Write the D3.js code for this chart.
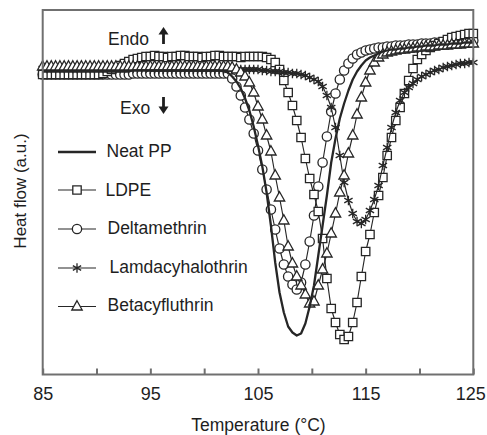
<!DOCTYPE html>
<html>
<head>
<meta charset="utf-8">
<script src="https://cdn.jsdelivr.net/npm/d3@7"></script>
<style>
  body { margin: 0; background: #fff; }
  svg text { font-family: "Liberation Sans", Arial, Helvetica, sans-serif; fill: #1e1e1e; }
</style>
</head>
<body>
<svg id="chart" width="487" height="435"></svg>
<script>
// DSC cooling scans, sampled every 0.4 °C from 85 to 125 °C
const temperature = d3.range(101).map(i => +(85 + i * 0.4).toFixed(1));

// Heat flow (a.u.), exotherm downward
const neatPP = [
  3.03,3.03,3.03,3.03,3.03,3.03,3.03,3.03,3.03,3.03,
  3.03,3.03,3.03,3.03,3.03,3.03,3.03,3.03,3.03,3.03,
  3.03,3.04,3.04,3.04,3.04,3.04,3.04,3.04,3.04,3.04,
  3.04,3.04,3.04,3.04,3.04,3.04,3.04,3.04,3.04,3.04,
  3.04,3.04,3.03,3.02,2.98,2.93,2.86,2.76,2.64,2.48,
  2.29,2.08,1.82,1.49,1.12,0.82,0.62,0.48,0.42,0.39,
  0.41,0.51,0.68,0.89,1.19,1.49,1.79,2.12,2.36,2.56,
  2.71,2.84,2.95,3.03,3.09,3.14,3.17,3.19,3.21,3.23,
  3.24,3.25,3.25,3.26,3.26,3.27,3.27,3.28,3.28,3.29,
  3.29,3.29,3.30,3.30,3.30,3.31,3.31,3.31,3.32,3.32,
  3.32
];
const ldpe = [
  3.00,3.00,3.00,3.00,3.00,3.00,3.00,3.00,3.00,3.00,
  3.00,3.00,3.00,3.00,3.01,3.03,3.05,3.07,3.09,3.11,
  3.13,3.15,3.16,3.17,3.18,3.18,3.19,3.18,3.18,3.17,
  3.18,3.18,3.19,3.19,3.18,3.18,3.18,3.17,3.18,3.18,
  3.19,3.19,3.18,3.18,3.18,3.18,3.17,3.18,3.18,3.18,
  3.18,3.18,3.17,3.15,3.12,3.05,2.94,2.82,2.69,2.54,
  2.37,2.16,1.96,1.80,1.63,1.36,0.96,0.66,0.52,0.40,
  0.35,0.38,0.52,0.72,0.98,1.23,1.40,1.62,1.79,1.97,
  2.19,2.37,2.54,2.67,2.81,2.94,3.06,3.15,3.20,3.24,
  3.27,3.29,3.31,3.33,3.35,3.37,3.38,3.39,3.40,3.41,
  3.41
];
const deltamethrin = [
  3.00,3.00,3.00,3.00,3.00,3.00,3.00,3.00,3.00,3.00,
  3.00,3.00,3.00,3.00,3.00,3.00,3.00,3.00,3.00,3.00,
  3.00,3.01,3.01,3.01,3.01,3.01,3.01,3.01,3.01,3.01,
  3.01,3.01,3.01,3.01,3.01,3.01,3.01,3.01,3.01,3.01,
  3.01,3.01,3.01,3.01,2.96,2.88,2.79,2.67,2.55,2.41,
  2.24,2.05,1.85,1.65,1.45,1.26,1.10,0.98,0.90,0.85,
  0.92,1.10,1.33,1.59,1.88,2.12,2.38,2.63,2.81,2.95,
  3.04,3.11,3.16,3.20,3.22,3.24,3.25,3.26,3.27,3.27,
  3.28,3.28,3.29,3.29,3.29,3.30,3.30,3.30,3.31,3.31,
  3.31,3.32,3.32,3.32,3.33,3.33,3.33,3.33,3.34,3.34,
  3.34
];
const lamdacyhalothrin = [
  3.06,3.06,3.06,3.06,3.06,3.06,3.06,3.06,3.06,3.06,
  3.06,3.06,3.06,3.06,3.06,3.06,3.06,3.06,3.06,3.06,
  3.06,3.06,3.06,3.06,3.06,3.05,3.05,3.05,3.05,3.05,
  3.05,3.05,3.05,3.05,3.05,3.05,3.05,3.05,3.05,3.05,
  3.05,3.05,3.05,3.05,3.05,3.05,3.05,3.05,3.05,3.05,
  3.05,3.04,3.04,3.03,3.03,3.03,3.02,3.02,3.01,3.01,
  3.00,2.99,2.97,2.95,2.93,2.88,2.79,2.67,2.47,2.19,
  1.92,1.74,1.61,1.53,1.51,1.55,1.64,1.75,1.89,2.09,
  2.27,2.47,2.62,2.74,2.82,2.87,2.91,2.95,2.98,3.00,
  3.02,3.04,3.05,3.07,3.08,3.09,3.10,3.11,3.11,3.12,
  3.12
];
const betacyfluthrin = [
  3.08,3.08,3.08,3.08,3.08,3.08,3.08,3.08,3.08,3.08,
  3.08,3.08,3.08,3.08,3.08,3.08,3.08,3.08,3.08,3.08,
  3.08,3.08,3.08,3.08,3.08,3.08,3.08,3.08,3.08,3.08,
  3.08,3.08,3.08,3.08,3.08,3.08,3.08,3.08,3.08,3.08,
  3.08,3.08,3.08,3.08,3.07,3.05,3.02,2.98,2.92,2.82,
  2.68,2.55,2.39,2.23,1.99,1.77,1.54,1.28,1.11,0.98,
  0.89,0.80,0.71,0.73,0.89,1.05,1.21,1.41,1.61,1.82,
  1.99,2.21,2.39,2.60,2.77,2.92,3.04,3.12,3.17,3.20,
  3.22,3.23,3.24,3.25,3.25,3.26,3.26,3.27,3.27,3.28,
  3.28,3.28,3.29,3.29,3.29,3.30,3.30,3.30,3.31,3.31,
  3.31
];

const seriesNames = ["Neat PP", "LDPE", "Deltamethrin", "Lamdacyhalothrin", "Betacyfluthrin"];
const seriesMarkers = ["none", "square", "circle", "star", "triangle"];
const xTickValues = [85, 90, 95, 100, 105, 110, 115, 120, 125];
const xTickLabels = [85, 95, 105, 115, 125];

const svg = d3.select("#chart");
const ink = "#262626";
const frameColor = "#707070";

const plot = { left: 42.7, right: 473.3, top: 10, bottom: 374.5 };
const x = d3.scaleLinear().domain([85, 125]).range([plot.left, plot.right]);
const y = d3.scaleLinear().domain([0, 3.645]).range([plot.bottom, plot.top]);

// marker shapes
function markerPath(kind) {
  switch (kind) {
    case "square": return "M-4.2,-4.2H4.2V4.2H-4.2Z";
    case "circle": return d3.symbol(d3.symbolCircle, 68)();
    case "triangle": return "M0,-5.8L5.2,3.5L-5.2,3.5Z";
    case "star": {
      const s = 4.8, c = s * 0.866, h = s * 0.5;
      return `M0,${-s}V${s}M${-c},${-h}L${c},${h}M${-c},${h}L${c},${-h}`;
    }
  }
  return null;
}

const series = [
  { name: seriesNames[0], marker: seriesMarkers[0], values: neatPP },
  { name: seriesNames[1], marker: seriesMarkers[1], values: ldpe },
  { name: seriesNames[2], marker: seriesMarkers[2], values: deltamethrin },
  { name: seriesNames[3], marker: seriesMarkers[3], values: lamdacyhalothrin },
  { name: seriesNames[4], marker: seriesMarkers[4], values: betacyfluthrin }
].map(s => ({ ...s, points: s.values.map((v, i) => ({ t: temperature[i], v })) }));

const line = d3.line().x(d => x(d.t)).y(d => y(d.v));

// drawing order: marker series first, neat PP trace on top
const order = [2, 1, 3, 4, 0];
const gData = svg.append("g");
order.forEach(idx => {
  const s = series[idx];
  const g = gData.append("g");
  g.append("path")
    .attr("d", line(s.points))
    .attr("fill", "none")
    .attr("stroke", ink)
    .attr("stroke-width", s.marker === "none" ? 2.3 : 1.15)
    .attr("stroke-linejoin", "round");
  if (s.marker !== "none") {
    g.selectAll("path.m")
      .data(s.points)
      .join("path")
      .attr("class", "m")
      .attr("d", markerPath(s.marker))
      .attr("transform", d => `translate(${x(d.t)},${y(d.v)})`)
      .attr("fill", s.marker === "star" ? "none" : "#fff")
      .attr("stroke", ink)
      .attr("stroke-width", 1.3);
  }
});

// frame
svg.append("rect")
  .attr("x", plot.left).attr("y", plot.top)
  .attr("width", plot.right - plot.left).attr("height", plot.bottom - plot.top)
  .attr("fill", "none").attr("stroke", frameColor).attr("stroke-width", 2);

// bottom axis with inward ticks
const xAxis = d3.axisBottom(x)
  .tickValues(xTickValues)
  .tickSize(-6)
  .tickPadding(12.5)
  .tickFormat(d => xTickLabels.includes(d) ? d3.format("d")(d) : "");
const gx = svg.append("g").attr("transform", `translate(0,${plot.bottom})`).call(xAxis);
gx.select(".domain").remove();
gx.selectAll(".tick line").attr("stroke", frameColor).attr("stroke-width", 2);
gx.selectAll(".tick text").attr("font-size", 18).style("fill", "#1e1e1e");
// keep the last label inside the page edge
gx.selectAll(".tick text").filter(d => d === 125).attr("dx", -3);

// axis titles
svg.append("text")
  .attr("x", 258.5).attr("y", 431)
  .attr("text-anchor", "middle").attr("font-size", 17.5)
  .text("Temperature (°C)");
svg.append("text")
  .attr("transform", "translate(26,191) rotate(-90)")
  .attr("text-anchor", "middle").attr("font-size", 17)
  .text("Heat flow (a.u.)");

// Endo / Exo annotations
svg.append("text").attr("x", 108).attr("y", 45).attr("font-size", 17.5).text("Endo");
svg.append("text").attr("x", 120).attr("y", 113.5).attr("font-size", 17.5).text("Exo");
function arrow(cx, yTail, yHead) {
  const dir = yHead < yTail ? -1 : 1;
  svg.append("line")
    .attr("x1", cx).attr("x2", cx)
    .attr("y1", yTail).attr("y2", yHead - dir * 5)
    .attr("stroke", "#1e1e1e").attr("stroke-width", 2.8);
  svg.append("path")
    .attr("d", `M${cx},${yHead}L${cx - 5},${yHead - dir * 7.5}L${cx + 5},${yHead - dir * 7.5}Z`)
    .attr("fill", "#1e1e1e");
}
arrow(163.5, 44, 27);
arrow(163.5, 97, 114);

// legend
const legendRows = [
  { y: 152, textX: 106.5, baseline: 156.5 },
  { y: 190, textX: 105.5, baseline: 195.5 },
  { y: 229, textX: 107.5, baseline: 234 },
  { y: 268, textX: 109.5, baseline: 273 },
  { y: 306.5, textX: 107.5, baseline: 311 }
];
const gLeg = svg.append("g");
series.forEach((s, i) => {
  const r = legendRows[i];
  gLeg.append("line")
    .attr("x1", 58).attr("x2", 96).attr("y1", r.y).attr("y2", r.y)
    .attr("stroke", ink).attr("stroke-width", s.marker === "none" ? 2.6 : 1.2);
  if (s.marker !== "none") {
    gLeg.append("path")
      .attr("d", markerPath(s.marker))
      .attr("transform", `translate(77,${r.y})`)
      .attr("fill", s.marker === "star" ? "none" : "#fff")
      .attr("stroke", ink).attr("stroke-width", 1.3);
  }
  gLeg.append("text")
    .attr("x", r.textX).attr("y", r.baseline)
    .attr("font-size", 17.5)
    .text(s.name);
});
</script>
</body>
</html>
